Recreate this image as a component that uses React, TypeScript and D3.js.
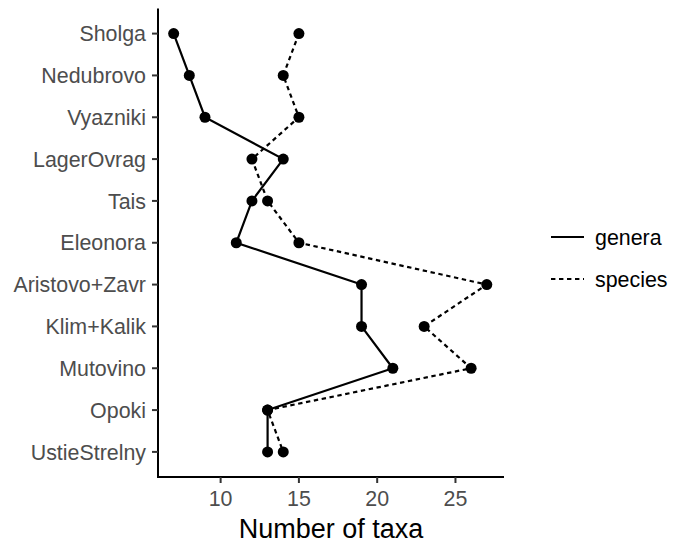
import React from "react";
import * as d3 from "d3";

const sites = [
  "Sholga",
  "Nedubrovo",
  "Vyazniki",
  "LagerOvrag",
  "Tais",
  "Eleonora",
  "Aristovo+Zavr",
  "Klim+Kalik",
  "Mutovino",
  "Opoki",
  "UstieStrelny",
];
const genera = [7, 8, 9, 14, 12, 11, 19, 19, 21, 13, 13];
const species = [15, 14, 15, 12, 13, 15, 27, 23, 26, 13, 14];
const xTicks = [10, 15, 20, 25];
const seriesNames = ["genera", "species"];

const W = 673;
const H = 542;
const panel = { left: 158, right: 504, top: 8.5, bottom: 477 };
const FONT = "'Liberation Sans', Arial, sans-serif";

export default function App() {
  const x = d3.scaleLinear().domain([6, 28.1]).range([panel.left, panel.right]);
  const n = sites.length;
  const step = (panel.bottom - panel.top) / (n - 1 + 1.2);
  const y = d3
    .scalePoint<string>()
    .domain(sites)
    .range([panel.top + 0.6 * step, panel.bottom - 0.6 * step]);

  const line = d3
    .line<[string, number]>()
    .x((d) => x(d[1]))
    .y((d) => y(d[0]) as number);

  const gPts: [string, number][] = sites.map((s, i) => [s, genera[i]]);
  const sPts: [string, number][] = sites.map((s, i) => [s, species[i]]);
  const dash = "4.4,3.6";

  return (
    <svg
      width={W}
      height={H}
      style={{ position: "absolute", left: 0, top: 0, background: "#fff" }}
      fontFamily={FONT}
    >
      <rect x={0} y={0} width={W} height={H} fill="#fff" />
      {/* lines */}
      <path d={line(sPts) || ""} fill="none" stroke="#000" strokeWidth={2.2} strokeDasharray={dash} />
      <path d={line(gPts) || ""} fill="none" stroke="#000" strokeWidth={2.2} />
      {/* points */}
      {gPts.map((d, i) => (
        <circle key={"g" + i} cx={x(d[1])} cy={y(d[0]) as number} r={5.5} fill="#000" />
      ))}
      {sPts.map((d, i) => (
        <circle key={"s" + i} cx={x(d[1])} cy={y(d[0]) as number} r={5.5} fill="#000" />
      ))}
      {/* axes */}
      <line x1={panel.left} x2={panel.left} y1={panel.top} y2={panel.bottom + 1} stroke="#000" strokeWidth={2} />
      <line x1={panel.left - 1} x2={panel.right} y1={panel.bottom} y2={panel.bottom} stroke="#000" strokeWidth={2} />
      {sites.map((s) => (
        <g key={s}>
          <line x1={panel.left - 6} x2={panel.left} y1={y(s) as number} y2={y(s) as number} stroke="#333" strokeWidth={2} />
          <text
            x={panel.left - 12}
            y={(y(s) as number) + 7.6}
            textAnchor="end"
            fontSize={21.4}
            fill="#4D4D4D"
          >
            {s}
          </text>
        </g>
      ))}
      {xTicks.map((t) => (
        <g key={t}>
          <line x1={x(t)} x2={x(t)} y1={panel.bottom} y2={panel.bottom + 6} stroke="#333" strokeWidth={2} />
          <text x={x(t)} y={505.5} textAnchor="middle" fontSize={21.4} fill="#4D4D4D">
            {t}
          </text>
        </g>
      ))}
      <text x={(panel.left + panel.right) / 2} y={537.5} textAnchor="middle" fontSize={27} fill="#000">
        Number of taxa
      </text>
      {/* legend */}
      {seriesNames.map((s, i) => {
        const ly = 237 + i * 42;
        return (
          <g key={s}>
            <line
              x1={551}
              x2={584}
              y1={ly}
              y2={ly}
              stroke="#000"
              strokeWidth={2.2}
              strokeDasharray={i === 1 ? dash : undefined}
            />
            <text x={595} y={ly + 7.6} fontSize={21.4} fill="#000">
              {s}
            </text>
          </g>
        );
      })}
    </svg>
  );
}
